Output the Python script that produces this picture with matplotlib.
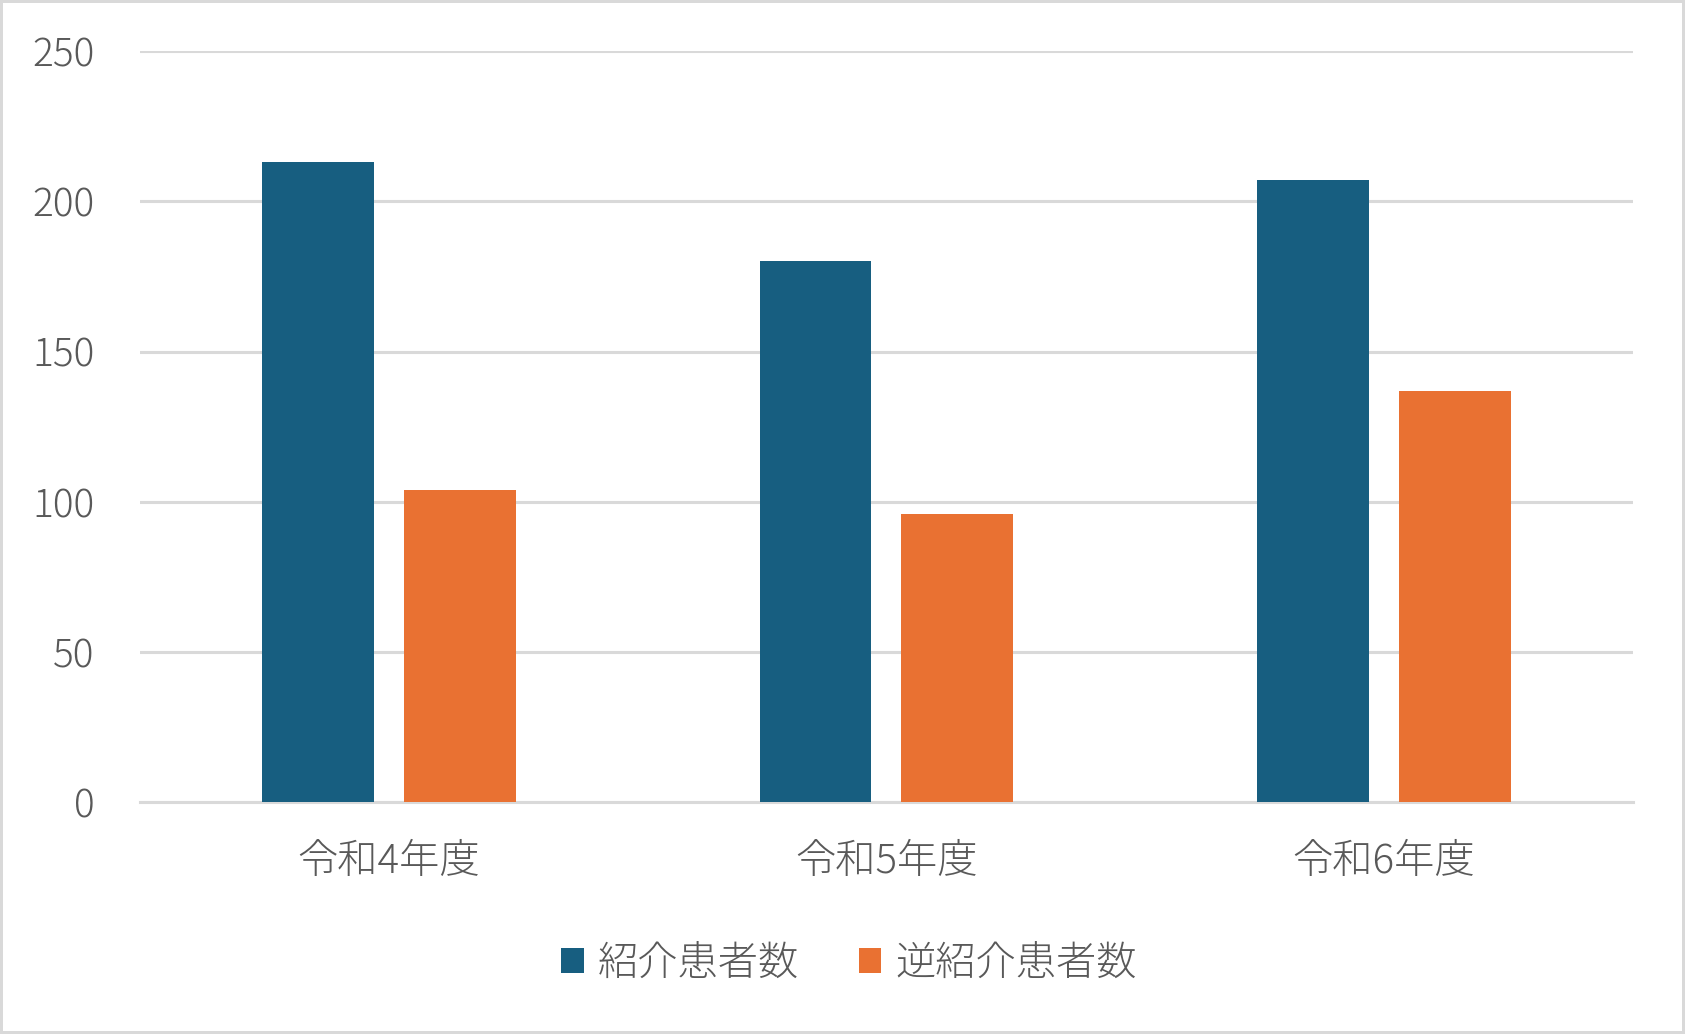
import matplotlib
matplotlib.use("Agg")
import matplotlib.pyplot as plt
import numpy as np

plt.rcParams['font.family'] = ['Noto Sans CJK JP', 'DejaVu Sans']
plt.rcParams['font.weight'] = 'light'

# data
categories = ['令和4年度', '令和5年度', '令和6年度']
referral = [213, 180, 207]
reverse_referral = [104, 96, 137]
series_names = ['紹介患者数', '逆紹介患者数']
yticks = [0, 50, 100, 150, 200, 250]

blue = '#175E80'
orange = '#E97132'
text_color = '#595959'
grid_color = '#D9D9D9'

fig = plt.figure(figsize=(16.85, 10.34), dpi=100)
fig.patch.set_edgecolor(grid_color)
fig.patch.set_linewidth(3)
ax = fig.add_axes([0.0831, 0.2239, 0.8859, 0.7268])

x = np.arange(len(categories))
width = 0.225
offset = 0.1425
ax.bar(x - offset, referral, width, color=blue, label=series_names[0], zorder=3)
ax.bar(x + offset, reverse_referral, width, color=orange, label=series_names[1], zorder=3)

ax.set_xlim(-0.5, len(categories) - 0.5)
ax.set_ylim(0, 250)
ax.set_yticks(yticks)
ax.set_xticks(x)
ax.set_xticklabels(categories)
ax.yaxis.grid(True, color=grid_color, linewidth=2.2, zorder=0)
ax.set_axisbelow(True)
for s in ['top', 'right', 'left']:
    ax.spines[s].set_visible(False)
ax.spines['bottom'].set_color(grid_color)
ax.spines['bottom'].set_linewidth(2.2)
ax.tick_params(axis='both', length=0, colors=text_color)
ax.tick_params(axis='y', pad=33, labelsize=28)
ax.tick_params(axis='x', pad=28, labelsize=29)

fig.legend(loc='center', bbox_to_anchor=(0.504, 0.068), ncol=2, frameon=False,
           fontsize=29, labelcolor=text_color, handlelength=0.55, handleheight=0.55,
           handletextpad=0.35, columnspacing=1.5)

fig.savefig('out.png', dpi=100, edgecolor=fig.get_edgecolor())
